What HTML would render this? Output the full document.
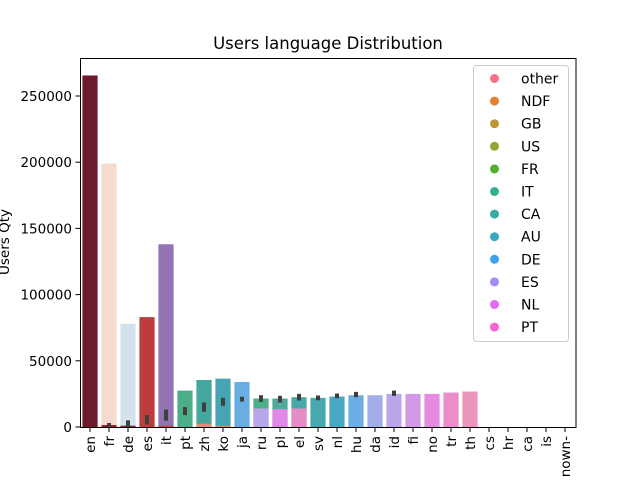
<!DOCTYPE html>
<html><head><meta charset="utf-8"><style>
body{margin:0;background:#fff}
svg{display:block;font-family:"DejaVu Sans","Liberation Sans",sans-serif}
</style></head><body>
<svg id="chart" width="640" height="480" viewBox="0 0 640 480">
<rect width="640" height="480" fill="#fff"/>
<text x="328" y="49" font-size="16.5" text-anchor="middle">Users language Distribution</text>
<text transform="translate(9,242) rotate(-90)" font-size="13.5" text-anchor="middle">Users Qty</text>
<g id="plot"></g>
<rect x="80.5" y="58.5" width="495.5" height="369" fill="none" stroke="#000" stroke-width="1"/>
<g id="legend"></g>
</svg>
<script>
const categories=["en","fr","de","es","it","pt","zh","ko","ja","ru","pl","el","sv","nl","hu","da","id","fi","no","tr","th","cs","hr","ca","is","unknown-"];
const backValues=[265500,199000,78000,83000,138000,27500,35500,36500,34000,21500,21500,22500,22000,23000,24000,24000,25000,25000,25000,26000,26800,0,0,0,0,0];
const backColors=["#6d1a2e","#f6dccf","#d3e2ec","#be3c3e","#9373b3","#4bae88","#45a69e","#46a5b3","#6aade3","#4daf8a","#4daa98","#46a8a8","#47a8b0","#4aa8c4","#6aaee2","#a1aee8","#bca6ea","#d29ae6","#e68ae0","#ea8dc9","#e996ba","#fff","#fff","#fff","#fff","#fff"];
const frontValues=[0,1500,1000,700,1000,0,2500,1000,0,14000,13500,14000,0,0,0,0,0,0,0,0,0,0,0,0,0,0];
const frontColors=["#6d1a2e","#9b2033","#9b2033","#c03a3a","#c8443f","#fff","#e08c78","#e08a50","#fff","#b8a6ea","#df89e6","#e68cc4","#fff","#fff","#fff","#fff","#fff","#fff","#fff","#fff","#fff","#fff","#fff","#fff","#fff","#fff"];
const errValues=[null,1200,2500,5500,9000,12000,15000,19000,21000,21500,21000,22500,22000,23500,24500,null,25500,null,null,null,null,null,null,null,null,null];
const errSpan=[0,1800,2500,3500,4200,3000,3500,3000,1800,2500,2500,2500,1800,1800,2000,0,2000,0,0,0,0,0,0,0,0,0];
const yTicks=[0,50000,100000,150000,200000,250000];
const legendLabels=["other","NDF","GB","US","FR","IT","CA","AU","DE","ES","NL","PT"];
const legendColors=["#f77189","#e5802f","#bb9832","#97a431","#50b131","#34ae91","#36ada4","#38aabf","#3ba3ec","#a48cf4","#e469f4","#f564d4"];

const NS="http://www.w3.org/2000/svg";
const X0=80.5,STEP=19,Y0=427,YSCALE=66.2/50000;
function xs(i){return X0+STEP*(i+0.5);}
function ys(v){return Y0-v*YSCALE;}
function mk(tag,attrs,parent){const e=document.createElementNS(NS,tag);for(const k in attrs)e.setAttribute(k,attrs[k]);parent.appendChild(e);return e;}
const plot=document.getElementById('plot');
const bw=STEP*0.8;
categories.forEach((c,i)=>{
  if(backValues[i]>0){
    const r=mk('rect',{x:xs(i)-bw/2,y:ys(backValues[i]),width:bw,height:Y0-ys(backValues[i]),fill:backColors[i]},plot);
    
    
  }
  if(frontValues[i]>0){
    const r=mk('rect',{x:xs(i)-bw/2,y:ys(frontValues[i]),width:bw,height:Y0-ys(frontValues[i]),fill:frontColors[i]},plot);
    
    
  }
  if(errValues[i]!==null){
    const h=errSpan[i];
    const r=mk('rect',{x:xs(i)-2,y:ys(errValues[i]+h),width:4,height:Math.max(2,ys(errValues[i]-h)-ys(errValues[i]+h)),fill:"#3f3f3f"},plot);
    
    
  }
  const t=mk('line',{x1:xs(i),x2:xs(i),y1:Y0+0.5,y2:Y0+5,stroke:"#000","stroke-width":1},plot);
  
  
  const lx=xs(i)+5,ly=Y0+9;
  const tx=mk('text',{x:lx,y:ly,transform:`rotate(-90 ${lx} ${ly})`,"font-size":"13.5","text-anchor":"end"},plot);
  tx.textContent=c==="unknown-"?"nown-":c;
  
  
});
yTicks.forEach(v=>{
  const y=ys(v);
  const l=mk('line',{x1:75.5,x2:80.5,y1:y,y2:y,stroke:"#000","stroke-width":1},plot);
  
  
  const t=mk('text',{x:72,y:y+5,"font-size":"13.5","text-anchor":"end"},plot);
  t.textContent=v;
  
  
});
const lg=document.getElementById('legend');
const box=mk('rect',{x:473.5,y:65.5,width:95,height:276,rx:3,fill:"#fff","fill-opacity":0.8,stroke:"#ccc","stroke-width":1},lg);


legendLabels.forEach((lab,i)=>{
  const y=78.5+i*22.6;
  const g=mk('g',{},lg);
  
  
  mk('circle',{cx:494.5,cy:y,r:4.5,fill:legendColors[i]},g);
  const t=mk('text',{x:521,y:y+5,"font-size":"14"},g);
  t.textContent=lab;
});
</script>
</body></html>
